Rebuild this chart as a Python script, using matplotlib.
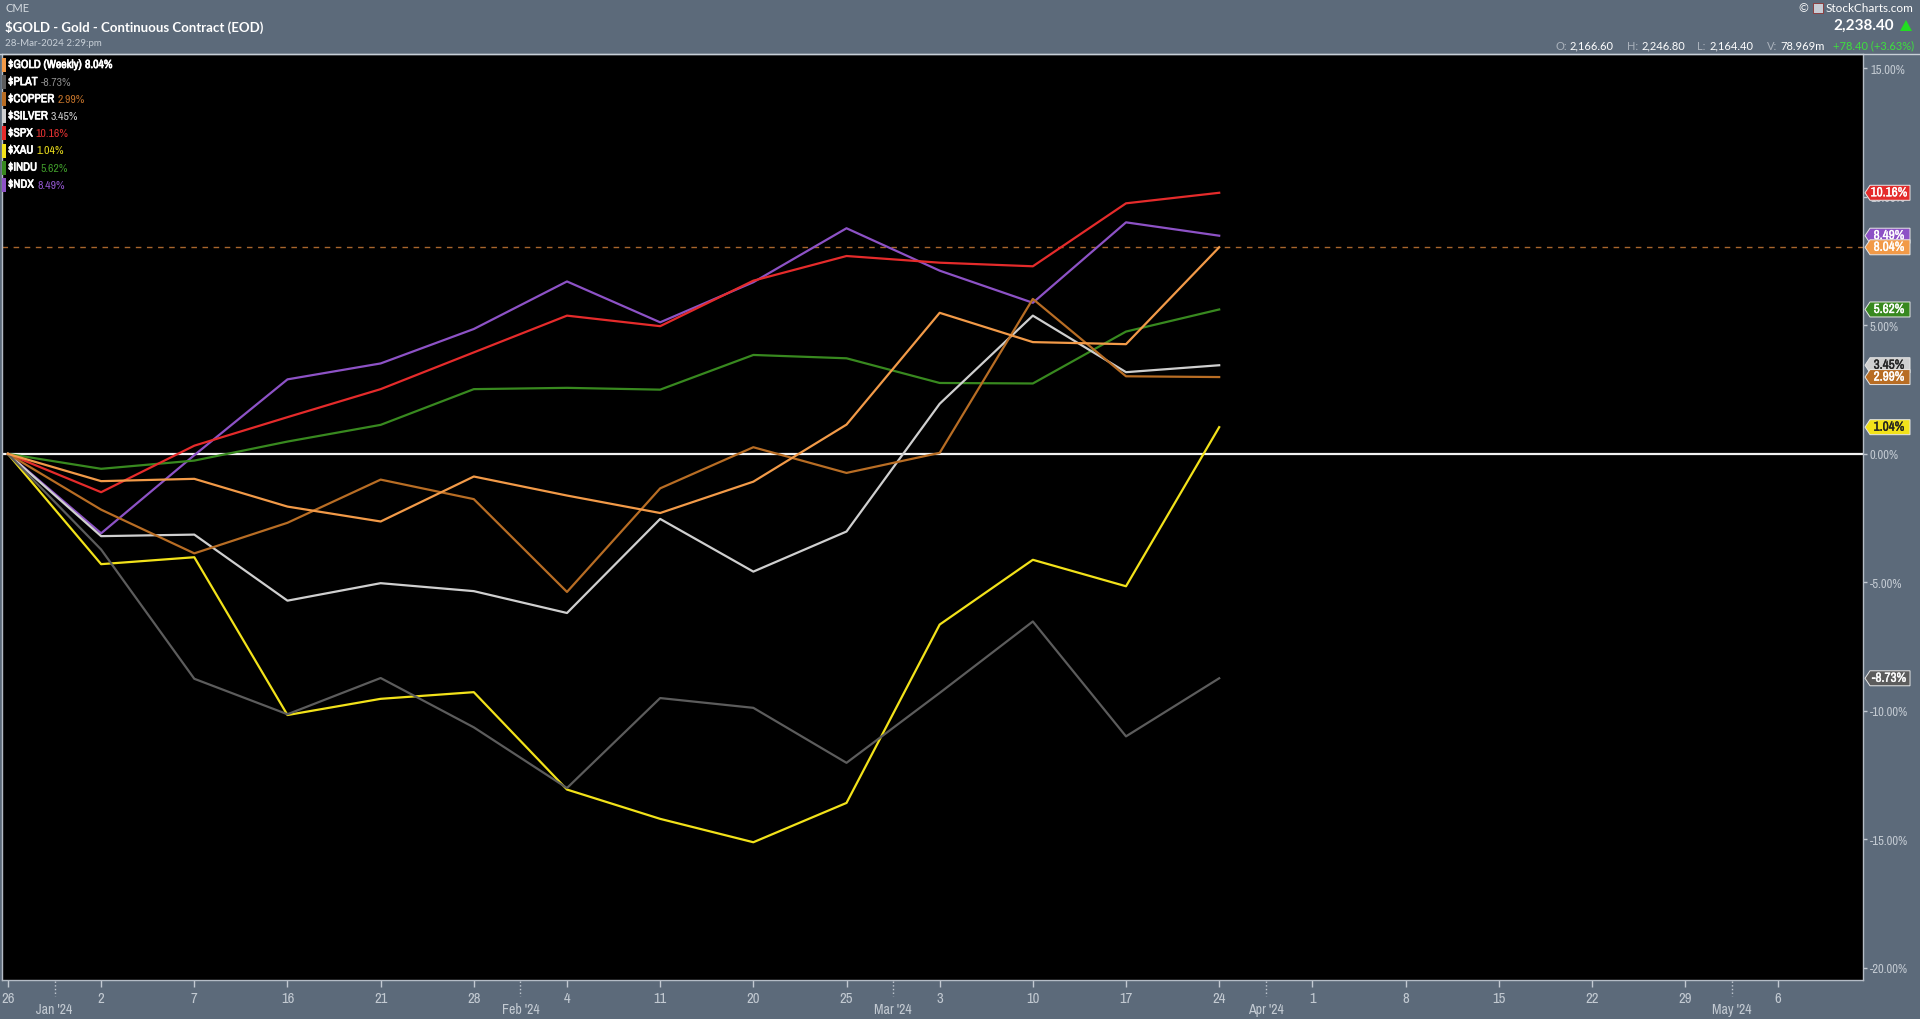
import numpy as np
import matplotlib
matplotlib.use("Agg")
import matplotlib.pyplot as plt
import matplotlib.patheffects as pe
from matplotlib import font_manager
from matplotlib.patches import Polygon, Rectangle
from matplotlib.lines import Line2D
from matplotlib.transforms import IdentityTransform, blended_transform_factory

plt.rcParams['text.parse_math'] = False

# week labels on the x axis (one weekly bar each)
day_labels = ['26', '2', '7', '16', '21', '28', '4', '11', '20', '25', '3',
              '10', '17', '24', '1', '8', '15', '22', '29', '6']
month_labels = ["Jan '24", "Feb '24", "Mar '24", "Apr '24", "May '24"]
month_pos = [0.5, 5.5, 9.5, 13.5, 18.5]

# percent change since 26 Dec, weekly closes
gold = [0, -1.06, -0.97, -2.05, -2.63, -0.88, -1.62, -2.30, -1.08, 1.14, 5.49, 4.35, 4.27, 8.04]
plat = [0, -3.72, -8.75, -10.13, -8.72, -10.64, -13.0, -9.50, -9.88, -12.02, -9.30, -6.52, -10.99, -8.73]
copper = [0, -2.17, -3.87, -2.68, -1.0, -1.76, -5.37, -1.34, 0.26, -0.74, 0.04, 6.03, 3.02, 2.99]
silver = [0, -3.20, -3.14, -5.71, -5.03, -5.34, -6.19, -2.53, -4.58, -3.02, 1.95, 5.38, 3.18, 3.45]
spx = [0, -1.49, 0.32, 1.43, 2.52, 3.95, 5.38, 4.97, 6.74, 7.70, 7.44, 7.30, 9.75, 10.16]
xau = [0, -4.29, -4.02, -10.16, -9.53, -9.27, -13.06, -14.20, -15.11, -13.58, -6.64, -4.12, -5.15, 1.04]
indu = [0, -0.58, -0.26, 0.48, 1.13, 2.52, 2.57, 2.50, 3.85, 3.72, 2.76, 2.74, 4.76, 5.62]
ndx = [0, -3.09, -0.05, 2.90, 3.52, 4.86, 6.71, 5.12, 6.68, 8.78, 7.13, 5.88, 9.01, 8.49]

names = ['$GOLD (Weekly)', '$PLAT', '$COPPER', '$SILVER', '$SPX', '$XAU', '$INDU', '$NDX']
values = [gold, plat, copper, silver, spx, xau, indu, ndx]
line_colors = ['#f29a48', '#5c5c5c', '#b86d24', '#cfcfcf', '#e52b2b', '#f2e21a', '#38891f', '#8d52c6']
value_colors = ['#ffffff', '#8c8c8c', '#c2722a', '#cfcfcf', '#e33232', '#e9dc1c', '#3f9a2a', '#9357cf']
tag_text = ['white', 'white', 'white', '#222222', 'white', '#222222', 'white', 'white']

W, H = 1920, 1020
SLATE = '#5c6a7a'
LIGHT = '#c3cad2'

# pick a condensed face if one is installed (bold is faked with a thin stroke)
entries = font_manager.fontManager.ttflist
narrow, stretch = 'Roboto', 'normal'
for f in entries:
    if 'Narrow' in f.name or 'Condensed' in f.name:
        narrow, stretch = f.name, 'normal'
        break
else:
    for f in entries:
        if str(f.stretch) in ('condensed', 'semi-condensed'):
            narrow, stretch = f.name, str(f.stretch)
            break
head = 'Lato' if any(f.name == 'Lato' for f in entries) else 'DejaVu Sans'
NF = dict(family=narrow, stretch=stretch)


def bold(color, w=0.5):
    return [pe.withStroke(linewidth=w, foreground=color)]


def fx(x):
    return x / W


def fy(y):
    return 1 - y / H


fig = plt.figure(figsize=(19.2, 10.2), dpi=100, facecolor=SLATE)
ax = fig.add_axes([fx(2), fy(981), (1863 - 2) / W, (981 - 55) / H])
ax.set_facecolor('black')

x = np.arange(len(gold))
for i in [7, 6, 5, 4, 3, 2, 1, 0]:
    ax.plot(x, values[i], color=line_colors[i], lw=1.6, zorder=3 + (7 - i) * 0.01)

ax.axhline(0, color='#f2f2f2', lw=1.6, zorder=2)
ax.axhline(gold[-1], color='#a8652c', lw=1.0, ls=(0, (4, 4)), zorder=2)

ax.set_xlim(-0.064, 19.91)
ax.set_ylim(-20.47, 15.56)

ax.yaxis.tick_right()
yt = np.arange(-20, 16, 5)
ax.set_yticks(yt)
ax.set_yticklabels([f'{v:.2f}%' for v in yt])
ax.tick_params(axis='y', colors=LIGHT, labelsize=9, length=3, width=1, pad=2)
ax.set_xticks(range(len(day_labels)))
ax.set_xticklabels(day_labels)
ax.tick_params(axis='x', colors=LIGHT, labelsize=10.5, length=5, width=1, pad=3)
for lbl in ax.get_xticklabels() + ax.get_yticklabels():
    lbl.set_fontfamily(narrow)
    lbl.set_fontstretch(stretch)
for s in ax.spines.values():
    s.set_color('#b4bcc6')
    s.set_linewidth(1)

# month labels with dotted separators
blend = blended_transform_factory(ax.transData, fig.transFigure)
for p, m in zip(month_pos, month_labels):
    ax.plot([p, p], [fy(982), fy(997)], transform=blend, ls=':', color=LIGHT,
            lw=1, clip_on=False)
    ax.text(p, fy(1010), m, transform=blend, ha='center', va='center',
            fontsize=10, color=LIGHT, **NF)

# header line across the figure
fig.add_artist(Line2D([0, 1], [fy(54.5), fy(54.5)], transform=fig.transFigure,
                      color='#c8d0d8', lw=1))

# header text
fig.text(fx(5), fy(9), 'CME', fontsize=8, color='#d4dae0', va='center', family=head)
fig.text(fx(5), fy(27), '$GOLD - Gold - Continuous Contract (EOD)', fontsize=9.5,
         color='white', weight='bold', va='center', family=head)
fig.text(fx(5), fy(43), '28-Mar-2024 2:29:pm', fontsize=7, color='#c8d0d8',
         va='center', family=head)

fig.canvas.draw()
renderer = fig.canvas.get_renderer()

sc = fig.text(fx(1913), fy(9), 'StockCharts.com', fontsize=8.5, color='white',
              ha='right', va='center', family=head)
sb = sc.get_window_extent(renderer)
fig.add_artist(Rectangle(((sb.x0 - 12) / W, fy(14)), 10 / W, 10 / H,
                         transform=fig.transFigure, facecolor='#c8ccd4',
                         edgecolor='#8a3030', lw=0.6))
fig.text((sb.x0 - 22) / W, fy(9), '©', fontsize=8.5, color='white', ha='center',
         va='center', family=head)
fig.text(fx(1894), fy(26), '2,238.40', fontsize=11, color='white', weight='bold',
         ha='right', va='center', family=head)
fig.add_artist(Polygon([[fx(1900), fy(32)], [fx(1912), fy(32)], [fx(1906), fy(21)]],
                       closed=True, transform=fig.transFigure, facecolor='#22dd22',
                       edgecolor='none'))

ohlc = [(1555, 'O:', '#aab2bc'), (1570, '2,166.60', 'white'),
        (1627, 'H:', '#aab2bc'), (1642, '2,246.80', 'white'),
        (1697, 'L:', '#aab2bc'), (1710, '2,164.40', 'white'),
        (1767, 'V:', '#aab2bc'), (1780, '78.969m', 'white'),
        (1833, '+78.40 (+3.63%)', '#3ee03e')]
for px, s, c in ohlc:
    fig.text(fx(px), fy(46), s, fontsize=8, color=c, va='center', family=head)

# legend in the top-left corner
for k, (nm, vals) in enumerate(zip(names, values)):
    yc = 66 + k * 17.1
    fig.add_artist(Rectangle((fx(2), fy(yc + 7)), 4 / W, 14 / H, transform=fig.transFigure,
                             facecolor=line_colors[k], edgecolor='none'))
    t = fig.text(fx(8), fy(yc), nm, fontsize=8.5, color='white', va='center',
                 path_effects=bold('white'), **NF)
    bb = t.get_window_extent(renderer)
    vc = value_colors[k]
    fig.text((bb.x1 + 3) / W, fy(yc), f'{vals[-1]:.2f}%', fontsize=8.5, color=vc,
             va='center', path_effects=bold(vc) if k == 0 else None, **NF)

# value tags on the right axis
tag_order = [4, 7, 0, 6, 3, 2, 5, 1]
for z, k in enumerate(tag_order):
    v = values[k][-1]
    yp = ax.transData.transform((0, v))[1]
    x0, x1, hh = 1865, 1910, 7.5
    pts = [[x0, yp], [x0 + 5, yp + hh], [x1, yp + hh], [x1, yp - hh], [x0 + 5, yp - hh]]
    fig.add_artist(Polygon(pts, closed=True, transform=IdentityTransform(),
                           facecolor=line_colors[k], edgecolor='#e6e6e6', lw=0.7,
                           zorder=10 + z))
    fig.text(fx(1889), yp / H, f'{v:.2f}%', fontsize=9.5, color=tag_text[k],
             ha='center', va='center', zorder=10 + z,
             path_effects=bold(tag_text[k], 0.25), **NF)

fig.savefig('out.png', dpi=100, facecolor=SLATE)
